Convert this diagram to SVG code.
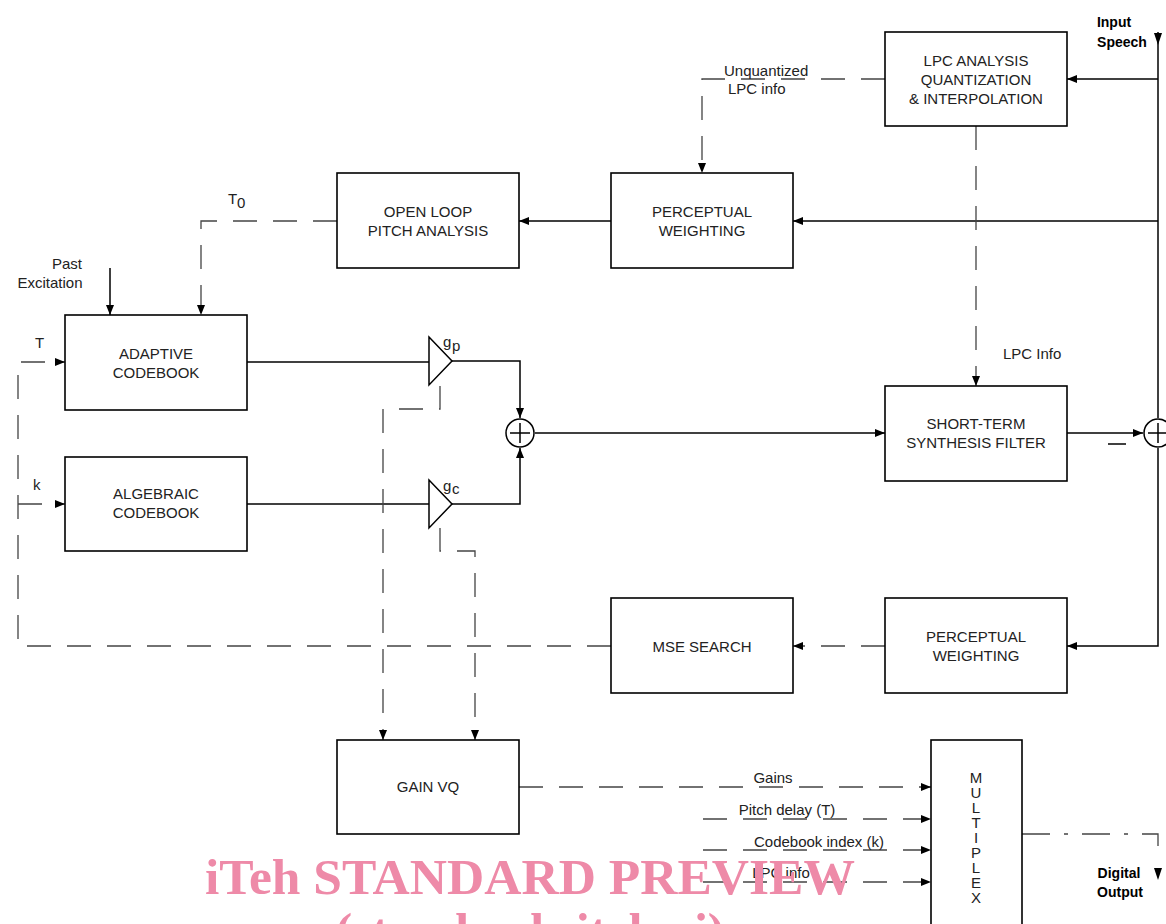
<svg xmlns="http://www.w3.org/2000/svg" width="1166" height="924" viewBox="0 0 1166 924">
<defs>
<marker id="ah" viewBox="0 0 10 8" refX="10" refY="4" markerWidth="10" markerHeight="8" markerUnits="userSpaceOnUse" orient="auto">
<path d="M0,0 L10,4 L0,8 Z" fill="#000"/>
</marker>
<style>
.box{fill:#fff;stroke:#000;stroke-width:1.6}
.s{fill:none;stroke:#000;stroke-width:1.5}
.d{fill:none;stroke:#444;stroke-width:1.3;stroke-dasharray:24 16}
.dd{fill:none;stroke:#444;stroke-width:1.3;stroke-dasharray:28 14 4 14}
.t{font-family:"Liberation Sans",Arial,sans-serif;font-size:15px;fill:#222;text-anchor:middle}
.l{font-family:"Liberation Sans",Arial,sans-serif;font-size:15px;fill:#222}
.b{font-family:"Liberation Sans",Arial,sans-serif;font-size:14px;font-weight:bold;fill:#000;text-anchor:middle}
.wm{font-family:"Liberation Serif","Times New Roman",serif;font-weight:bold;font-size:50px;fill:#ee8aa8;text-anchor:middle}
</style>
</defs>

<g id="connectors">
<path class="s" d="M1158,32 V418"/>
<path d="M1154,33 L1162,33 L1158,45 Z" fill="#000"/>
<path class="s" d="M1158,79 H1067" marker-end="url(#ah)"/>
<path class="s" d="M1158,221 H793" marker-end="url(#ah)"/>
<path class="s" d="M1158,448 V646 H1067" marker-end="url(#ah)"/>
<path class="s" d="M611,221 H519" marker-end="url(#ah)"/>
<path class="d" d="M885,79 H702 V173" marker-end="url(#ah)"/>
<path class="d" d="M976,126 V386" marker-end="url(#ah)"/>
<path class="d" d="M337,221 H201 V315" marker-end="url(#ah)"/>
<path class="s" d="M110,268 V315" marker-end="url(#ah)"/>
<path class="s" d="M247,362 H429"/>
<path class="s" d="M247,504 H429"/>
<path class="s" d="M452,361 H520 V418" marker-end="url(#ah)"/>
<path class="s" d="M452,504 H520 V448" marker-end="url(#ah)"/>
<path class="s" d="M535,433 H885" marker-end="url(#ah)"/>
<path class="s" d="M1067,433 H1143" marker-end="url(#ah)"/>
<path class="s" d="M1108,444 H1126"/>
<path class="d" d="M885,646 H793" marker-end="url(#ah)"/>
<path class="d" d="M611,646 H18 V362 H65" marker-end="url(#ah)"/>
<path class="d" d="M18,504 H65" marker-end="url(#ah)"/>
<path class="d" d="M440,386 V409 H383 V740" marker-end="url(#ah)"/>
<path class="d" d="M440,528 V551 H475 V740" marker-end="url(#ah)"/>
<path class="d" d="M519,787 H931" marker-end="url(#ah)"/>
<path class="d" d="M703,819 H931" marker-end="url(#ah)"/>
<path class="d" d="M703,850 H931" marker-end="url(#ah)"/>
<path class="d" d="M703,882 H931" marker-end="url(#ah)"/>
<path class="dd" d="M1022,834 H1158 V856"/>
<path d="M1154,868 L1162,868 L1158,880 Z" fill="#000"/>
</g>

<g id="lpc"><rect class="box" x="885" y="32" width="182" height="94"/>
<text class="t" x="976" y="66">LPC ANALYSIS</text><text class="t" x="976" y="85">QUANTIZATION</text><text class="t" x="976" y="104">&amp; INTERPOLATION</text></g>
<g id="pw1"><rect class="box" x="611" y="173" width="182" height="95"/>
<text class="t" x="702" y="217">PERCEPTUAL</text><text class="t" x="702" y="236">WEIGHTING</text></g>
<g id="olpa"><rect class="box" x="337" y="173" width="182" height="95"/>
<text class="t" x="428" y="217">OPEN LOOP</text><text class="t" x="428" y="236">PITCH ANALYSIS</text></g>
<g id="acb"><rect class="box" x="65" y="315" width="182" height="95"/>
<text class="t" x="156" y="359">ADAPTIVE</text><text class="t" x="156" y="378">CODEBOOK</text></g>
<g id="fcb"><rect class="box" x="65" y="457" width="182" height="94"/>
<text class="t" x="156" y="499">ALGEBRAIC</text><text class="t" x="156" y="518">CODEBOOK</text></g>
<g id="stf"><rect class="box" x="885" y="386" width="182" height="95"/>
<text class="t" x="976" y="429">SHORT-TERM</text><text class="t" x="976" y="448">SYNTHESIS FILTER</text></g>
<g id="mse"><rect class="box" x="611" y="598" width="182" height="95"/>
<text class="t" x="702" y="652">MSE SEARCH</text></g>
<g id="pw2"><rect class="box" x="885" y="598" width="182" height="95"/>
<text class="t" x="976" y="642">PERCEPTUAL</text><text class="t" x="976" y="661">WEIGHTING</text></g>
<g id="gvq"><rect class="box" x="337" y="740" width="182" height="94"/>
<text class="t" x="428" y="792">GAIN VQ</text></g>
<g id="mux"><rect class="box" x="931" y="740" width="91" height="200"/>
<text class="t" x="976" y="783">M</text><text class="t" x="976" y="798">U</text><text class="t" x="976" y="813">L</text><text class="t" x="976" y="828">T</text><text class="t" x="976" y="843">I</text><text class="t" x="976" y="858">P</text><text class="t" x="976" y="873">L</text><text class="t" x="976" y="888">E</text><text class="t" x="976" y="903">X</text></g>

<g id="gp"><polygon class="s" points="429,337 452,361 429,385" fill="#fff"/>
<text class="l" x="443" y="347" font-size="15">g</text><text class="l" x="452" y="351" font-size="11">p</text></g>
<g id="gc"><polygon class="s" points="429,480 452,504 429,528" fill="#fff"/>
<text class="l" x="443" y="491" font-size="15">g</text><text class="l" x="452" y="494" font-size="11">c</text></g>
<g id="add1"><circle class="s" cx="520" cy="433" r="14" fill="#fff"/><path class="s" d="M510,433 H530 M520,423 V443"/></g>
<g id="add2"><circle class="s" cx="1158" cy="433" r="14" fill="#fff"/><path class="s" d="M1148,433 H1168 M1158,423 V443"/></g>

<g id="labels">
<text class="b" x="1114" y="27">Input</text><text class="b" x="1122" y="47">Speech</text>
<text class="l" x="724" y="76">Unquantized</text><text class="l" x="728" y="94">LPC info</text>
<text class="l" x="228" y="204">T</text><text class="l" x="237" y="208" font-size="10">0</text>
<text class="t" x="67" y="269">Past</text><text class="t" x="50" y="288">Excitation</text>
<text class="l" x="35" y="348">T</text>
<text class="l" x="33" y="490">k</text>
<text class="l" x="1003" y="359">LPC Info</text>
<text class="t" x="773" y="783">Gains</text>
<text class="t" x="787" y="815">Pitch delay (T)</text>
<text class="t" x="819" y="847">Codebook index (k)</text>
<text class="t" x="781" y="878">LPC info</text>
<text class="b" x="1119" y="878">Digital</text><text class="b" x="1120" y="897">Output</text>
</g>

<g id="watermark">
<text class="wm" x="530" y="894" textLength="650" lengthAdjust="spacingAndGlyphs">iTeh STANDARD PREVIEW</text>
<text class="wm" x="530" y="948">(standards.iteh.ai)</text>
</g>
</svg>
